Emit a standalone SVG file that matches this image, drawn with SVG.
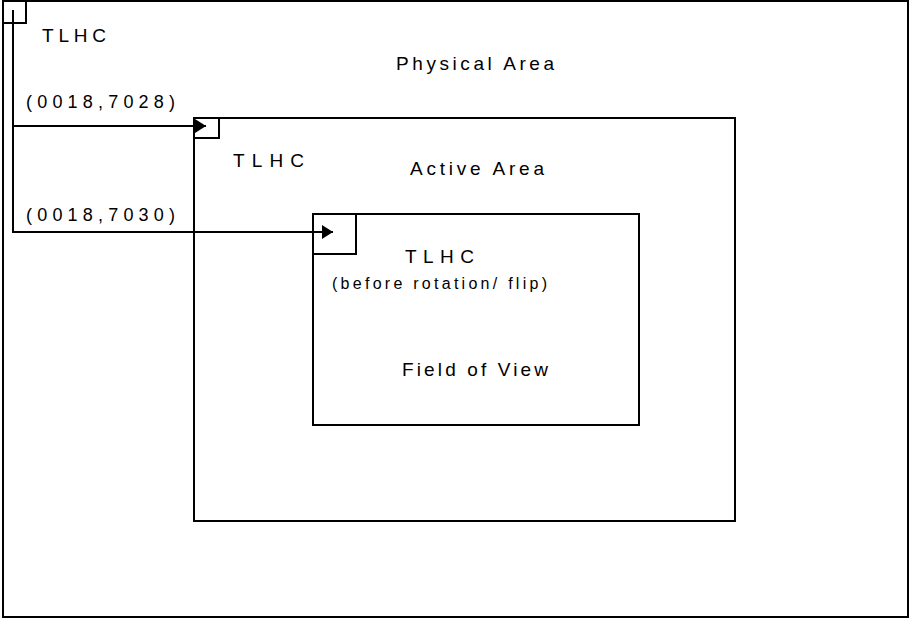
<svg xmlns="http://www.w3.org/2000/svg" width="909" height="619" viewBox="0 0 909 619">
<style>
.box{fill:none;stroke:#000;stroke-width:2}
.conn{fill:none;stroke:#000;stroke-width:2}
text{font-family:"Liberation Sans",Arial,sans-serif;font-size:19px;fill:#000}
.small{font-size:16px}
.coord{font-size:18px}
</style>
<defs>
<marker id="arrow" markerUnits="userSpaceOnUse" markerWidth="12" markerHeight="15" refX="11" refY="7" orient="auto">
<path d="M0,0 L11,7 L0,14 z" fill="#000"/>
</marker>
</defs>
<rect width="909" height="619" fill="#fff"/>
<g id="physical-area">
<rect class="box" x="3" y="1" width="905" height="616"/>
<path class="box" d="M3,23 H26 V1"/>
<text x="42" y="42" textLength="64">TLHC</text>
<text x="396" y="70" textLength="158">Physical Area</text>
</g>
<g id="active-area">
<rect class="box" x="194" y="118" width="541" height="403"/>
<path class="box" d="M194,138 H219 V118"/>
<text x="233" y="167" textLength="71">TLHC</text>
<text x="410" y="175" textLength="134">Active Area</text>
</g>
<g id="field-of-view">
<rect class="box" x="313" y="214" width="326" height="211"/>
<path class="box" d="M313,254 H356 V214"/>
<text x="405" y="263" textLength="69">TLHC</text>
<text class="small" x="332" y="289" textLength="215">(before rotation/ flip)</text>
<text x="402" y="376" textLength="146">Field of View</text>
</g>
<g id="connectors">
<path class="conn" d="M13,126 H206" marker-end="url(#arrow)"/>
<path class="conn" d="M13,10 V232 H333" marker-end="url(#arrow)"/>
<text class="coord" x="26" y="108" textLength="149">(0018,7028)</text>
<text class="coord" x="26" y="221" textLength="149">(0018,7030)</text>
</g>
</svg>
